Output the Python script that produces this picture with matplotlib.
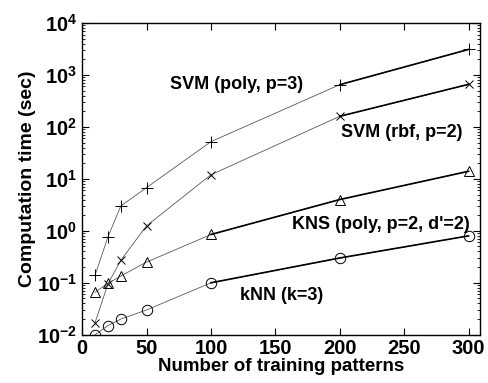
import math

import matplotlib
matplotlib.use("Agg")
import matplotlib.pyplot as plt
from matplotlib.ticker import FixedLocator, LogLocator, FuncFormatter, NullFormatter

plt.rcParams["font.family"] = ["Liberation Sans", "DejaVu Sans"]
plt.rcParams["font.weight"] = "bold"
plt.rcParams["mathtext.fontset"] = "custom"
plt.rcParams["mathtext.rm"] = "Liberation Sans:bold"
plt.rcParams["mathtext.bf"] = "Liberation Sans:bold"
plt.rcParams["mathtext.it"] = "Liberation Sans:bold"

# training set sizes
n_train = [10, 20, 30, 50, 100, 200, 300]

# computation time (sec)
svm_poly = [0.14, 0.76, 3.0, 6.8, 52, 650, 3100]
svm_rbf = [0.017, 0.095, 0.27, 1.25, 12, 160, 660]
kns_poly = [0.066, 0.097, 0.135, 0.25, 0.85, 4.0, 14]
knn = [0.0100, 0.0150, 0.0200, 0.0300, 0.100, 0.30, 0.80]

series = [
    ("SVM (poly, p=3)", svm_poly, "+", 9),
    ("SVM (rbf, p=2)", svm_rbf, "x", 5.5),
    ("KNS (poly, p=2, d'=2)", kns_poly, "^", 7.5),
    ("kNN (k=3)", knn, "o", 7.5),
]
# index where the heavy black segment starts
heavy_from = [5, 5, 4, 4]

label_pos = [(120, 650), (248, 78), (232, 1.34), (155, 0.056)]

fig = plt.figure(figsize=(4.89, 3.83), dpi=100)
ax = fig.add_axes([0.168, 0.126, 0.814, 0.814])

for (name, ys, mk, ms), h, (lx, ly) in zip(series, heavy_from, label_pos):
    ax.plot(n_train, ys, color="0.35", lw=0.6, marker=mk, ms=ms,
            mfc="none", mec="black", mew=0.7)
    ax.plot(n_train[h:], ys[h:], color="black", lw=1.2)
    ax.text(lx, ly, name, ha="center", va="center", fontsize=13,
            fontweight="bold")

ax.set_yscale("log")
ax.set_xlim(0, 309)
ax.set_ylim(1e-2, 1e4)
ax.xaxis.set_major_locator(FixedLocator([0, 50, 100, 150, 200, 250, 300]))
ax.yaxis.set_major_locator(LogLocator(base=10, numticks=10))
ax.yaxis.set_minor_locator(LogLocator(base=10, subs=range(2, 10), numticks=20))
ax.yaxis.set_minor_formatter(NullFormatter())
ax.yaxis.set_major_formatter(FuncFormatter(
    lambda v, p: r"$\mathbf{10^{%d}}$" % round(math.log10(v))))

ax.tick_params(which="both", direction="in", top=True, right=True)
ax.tick_params(which="major", length=5, labelsize=14.5, width=0.8)
ax.tick_params(which="minor", length=2.5, width=0.6)
ax.tick_params(axis="x", which="major", pad=3)
for s in ax.spines.values():
    s.set_linewidth(1.0)

ax.set_xlabel("Number of training patterns", fontsize=13.5, fontweight="bold",
              labelpad=0)
ax.set_ylabel("Computation time (sec)", fontsize=14, fontweight="bold",
              labelpad=1)

fig.savefig("out.png", dpi=100)
